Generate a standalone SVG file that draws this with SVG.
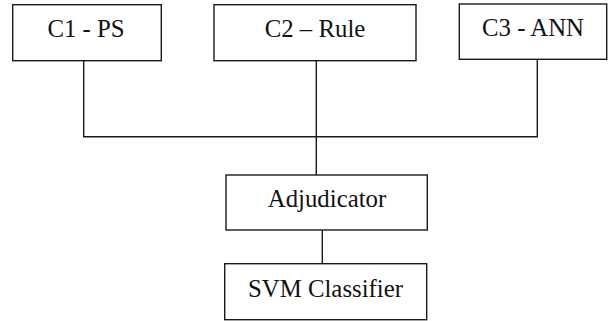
<svg xmlns="http://www.w3.org/2000/svg" width="613" height="321" viewBox="0 0 613 321">
  <style>
    .box { fill: #ffffff; stroke: #1a1a1a; stroke-width: 1.4; }
    .wire { fill: none; stroke: #1a1a1a; stroke-width: 1.4; }
    .label { font-family: 'Liberation Serif', 'DejaVu Serif', serif; font-size: 24.8px; fill: #111111; text-anchor: middle; }
  </style>
  <rect width="613" height="321" fill="#ffffff"/>

  <!-- connectors -->
  <g id="connectors">
    <polyline class="wire" points="83.7,60.7 83.7,136.7 537.3,136.7 537.3,59.3"/>
    <line class="wire" x1="316.3" y1="60.7" x2="316.3" y2="175"/>
    <line class="wire" x1="322.3" y1="230" x2="322.3" y2="263.7"/>
  </g>

  <!-- classifier nodes -->
  <g id="c1-ps">
    <rect class="box" x="12.7" y="4.7" width="148.6" height="56"/>
    <text class="label" font-family="Liberation Serif, serif" x="86" y="36.7">C1 - PS</text>
  </g>
  <g id="c2-rule">
    <rect class="box" x="214" y="4.7" width="202" height="56"/>
    <text class="label" font-family="Liberation Serif, serif" x="315" y="36.7">C2 – Rule</text>
  </g>
  <g id="c3-ann">
    <rect class="box" x="459.3" y="4" width="147.4" height="55.3"/>
    <text class="label" font-family="Liberation Serif, serif" x="533" y="35.5">C3 - ANN</text>
  </g>

  <!-- combination stage -->
  <g id="adjudicator">
    <rect class="box" x="226" y="175" width="201.3" height="55"/>
    <text class="label" font-family="Liberation Serif, serif" x="327" y="206.7">Adjudicator</text>
  </g>
  <g id="svm-classifier">
    <rect class="box" x="224.7" y="263.7" width="202" height="56"/>
    <text class="label" font-family="Liberation Serif, serif" x="325.5" y="296.7">SVM Classifier</text>
  </g>
</svg>
